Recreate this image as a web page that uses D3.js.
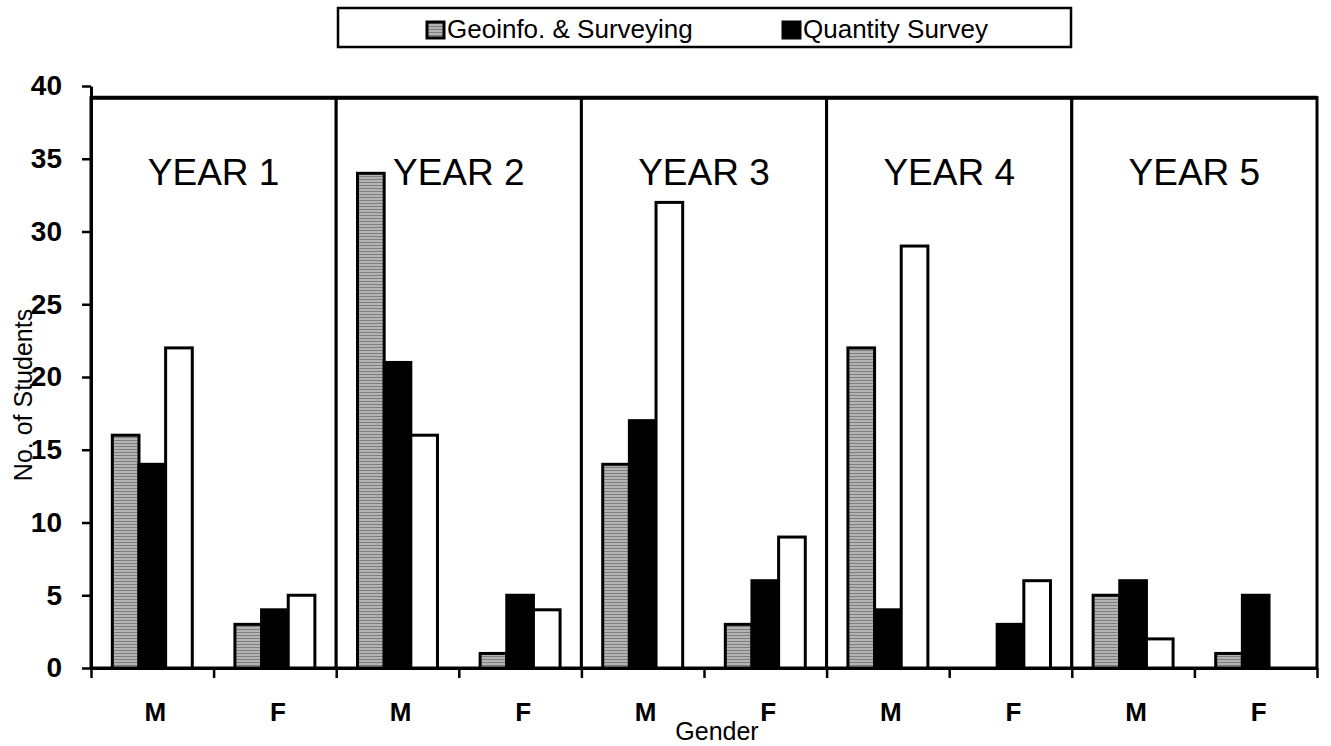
<!DOCTYPE html>
<html>
<head>
<meta charset="utf-8">
<script src="https://cdn.jsdelivr.net/npm/d3@7"></script>
<style>
  html, body { margin: 0; padding: 0; background: #fff; }
  svg { display: block; font-family: "Liberation Sans", Arial, sans-serif; }
</style>
</head>
<body>
<svg id="chart" width="1331" height="746"></svg>
<script>
// ---- data ----
const years = ["YEAR 1", "YEAR 2", "YEAR 3", "YEAR 4", "YEAR 5"];
const genders = ["M", "F"];
const seriesNames = ["Geoinfo. & Surveying", "Quantity Survey", "Unlabelled series"];
// values in order Y1 M, Y1 F, Y2 M, Y2 F, ... Y5 F
const geoinfo  = [16, 3, 34, 1, 14, 3, 22, 0, 5, 1];
const quantity = [14, 4, 21, 5, 17, 6, 4, 3, 6, 5];
const unlabelled = [22, 5, 16, 4, 32, 9, 29, 6, 2, 0];
const yTicks = [0, 5, 10, 15, 20, 25, 30, 35, 40];
const legendNames = ["Geoinfo. & Surveying", "Quantity Survey"];
const yTitle = "No. of Students";
const xTitle = "Gender";

// ---- build ----
const svg = d3.select("#chart");
const cats = [];
years.forEach((yr, i) => genders.forEach(g => cats.push({ key: yr + "|" + g, year: yr, gender: g })));
const seriesVals = [geoinfo, quantity, unlabelled];

const y = d3.scaleLinear().domain([0, 40]).range([668, 86]);
const x = d3.scaleBand().domain(cats.map(c => c.key)).range([91, 1317]).padding(0);
const xs = d3.scaleBand().domain(d3.range(3)).range([0, x.bandwidth()]).paddingInner(0).paddingOuter(0.8);

// gray hatched pattern
const defs = svg.append("defs");
const pat = defs.append("pattern").attr("id", "grayPat").attr("patternUnits", "userSpaceOnUse")
  .attr("width", 6).attr("height", 3);
pat.append("rect").attr("width", 6).attr("height", 3).attr("fill", "#b4b4b4");
pat.append("rect").attr("y", 2).attr("width", 6).attr("height", 1).attr("fill", "#7e7e7e");

const fills = ["url(#grayPat)", "#000", "#fff"];

// panels (one box per year)
const panelTop = 39.2;
svg.append("g").selectAll("rect").data(years).join("rect")
  .attr("x", d => x(d + "|M"))
  .attr("y", y(panelTop))
  .attr("width", d => x(d + "|F") + x.bandwidth() - x(d + "|M"))
  .attr("height", y(0) - y(panelTop))
  .attr("fill", "#fff").attr("stroke", "#000").attr("stroke-width", 3);
svg.append("line")
  .attr("x1", x.range()[0]).attr("x2", x.range()[1])
  .attr("y1", y(panelTop)).attr("y2", y(panelTop))
  .attr("stroke", "#000").attr("stroke-width", 4);

// year labels
svg.append("g").selectAll("text").data(years).join("text")
  .attr("x", d => (x(d + "|M") + x(d + "|F") + x.bandwidth()) / 2)
  .attr("y", 185)
  .attr("text-anchor", "middle")
  .attr("font-size", 37)
  .attr("fill", "#000")
  .text(d => d);

// bars
const barG = svg.append("g");
seriesVals.forEach((vals, si) => {
  barG.append("g").selectAll("rect").data(cats.map((c, i) => ({ c, v: vals[i] })).filter(d => d.v > 0)).join("rect")
    .attr("x", d => x(d.c.key) + xs(si))
    .attr("y", d => y(d.v))
    .attr("width", xs.bandwidth())
    .attr("height", d => y(0) - y(d.v))
    .attr("fill", fills[si])
    .attr("stroke", "#000").attr("stroke-width", 3);
});

// y axis
const yAxis = svg.append("g").attr("transform", `translate(${x.range()[0]},0)`)
  .call(d3.axisLeft(y).tickValues(yTicks).tickSize(9).tickPadding(20).tickSizeOuter(0));
yAxis.select(".domain").attr("stroke-width", 3);
yAxis.selectAll(".tick line").attr("stroke-width", 2.5);
yAxis.selectAll("text").attr("font-size", 28).attr("font-weight", "bold").attr("fill", "#000")
  .attr("font-family", "'Liberation Sans', Arial, sans-serif");

// x axis: baseline + boundary ticks
const boundaries = cats.map(c => x(c.key)).concat([x.range()[1]]);
const xb = d3.scaleLinear().domain([0, boundaries.length - 1]).range([x.range()[0], x.range()[1]]);
const xAxis = svg.append("g").attr("transform", `translate(0,${y(0)})`)
  .call(d3.axisBottom(xb).tickValues(d3.range(boundaries.length)).tickFormat("").tickSize(10).tickSizeOuter(0));
xAxis.select(".domain").attr("stroke-width", 3);
xAxis.selectAll(".tick line").attr("stroke-width", 2.5);

// gender labels
svg.append("g").selectAll("text").data(cats).join("text")
  .attr("x", d => x(d.key) + x.bandwidth() / 2 + 3)
  .attr("y", 721)
  .attr("text-anchor", "middle")
  .attr("font-size", 26).attr("font-weight", "bold")
  .text(d => d.gender);

// axis titles
svg.append("text")
  .attr("transform", "translate(32,395) rotate(-90)")
  .attr("text-anchor", "middle").attr("font-size", 25)
  .text(yTitle);
svg.append("text")
  .attr("x", 717).attr("y", 740)
  .attr("text-anchor", "middle").attr("font-size", 25)
  .text(xTitle);

// legend
const lg = svg.append("g");
lg.append("rect").attr("x", 338).attr("y", 8).attr("width", 733).attr("height", 39)
  .attr("fill", "#fff").attr("stroke", "#000").attr("stroke-width", 2.5);
const legX = [427, 783];
legendNames.forEach((name, i) => {
  lg.append("rect").attr("x", legX[i]).attr("y", 22).attr("width", 17).attr("height", 16)
    .attr("fill", fills[i]).attr("stroke", "#000").attr("stroke-width", 3);
  lg.append("text").attr("x", legX[i] + 20).attr("y", 38).attr("font-size", 26).text(name);
});
</script>
</body>
</html>
